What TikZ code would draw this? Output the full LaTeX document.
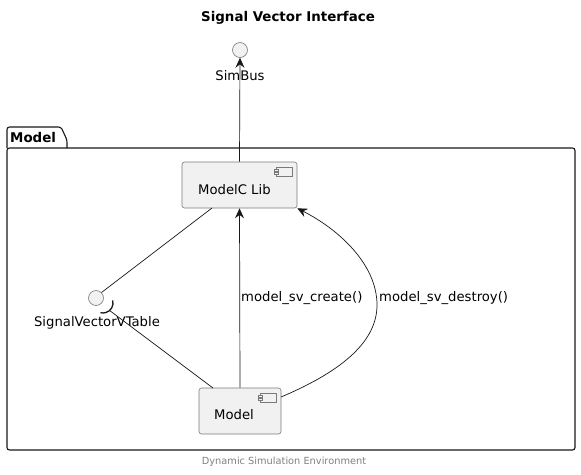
\documentclass[tikz,border=0pt]{standalone}
\usepackage{fontspec}
\setmainfont{DejaVu Sans}
\usetikzlibrary{arrows.meta,calc}
\definecolor{boxfill}{HTML}{F1F1F1}
\definecolor{boxline}{HTML}{7A7A7A}
\definecolor{conn}{HTML}{181818}
\tikzset{
  comp/.style={draw=boxline,fill=boxfill,rounded corners=2.5pt,line width=0.6pt,inner sep=0pt},
  iface/.style={circle,draw=boxline,fill=boxfill,line width=0.6pt,minimum size=15pt,inner sep=0pt},
  lbl/.style={font=\fontsize{13.2}{15}\selectfont,inner sep=0pt},
  conn/.style={draw=conn,line width=0.7pt},
  arr/.style={conn,-{Stealth[length=10pt,width=9pt,inset=3.5pt]}},
}
\newcommand{\compicon}[1]{%
  \draw[boxline,line width=0.5pt,fill=boxfill] ($(#1.north east)+(-21,6)$) rectangle ($(#1.north east)+(-5,15)$);
  \draw[boxline,line width=0.5pt,fill=boxfill] ($(#1.north east)+(-23,8)$) rectangle ($(#1.north east)+(-19,10)$);
  \draw[boxline,line width=0.5pt,fill=boxfill] ($(#1.north east)+(-23,11)$) rectangle ($(#1.north east)+(-19,13)$);
}
\begin{document}
\begin{tikzpicture}[x=1pt,y=-1pt]
\useasboundingbox (0,0) rectangle (581,474);
% title
\node[font=\bfseries\fontsize{13.4}{16}\selectfont] (title) at (288,18) {Signal Vector Interface};
% package
\draw[conn,line width=1.1pt,rounded corners=2.5pt] (7,148) -- (7,127) -- (61,127) -- (67,140) -- (67,148);
\draw[conn,line width=1.1pt,rounded corners=2.5pt] (7,148) rectangle (575,450);
\node[font=\bfseries\fontsize{13.4}{15}\selectfont,anchor=west,inner sep=0pt] (pkg) at (10,137.5) {Model};
% components
\node[comp,minimum width=115pt,minimum height=46pt] (mc) at (239.5,185) {};
\node[lbl,anchor=west] (mctxt) at (198,190) {ModelC Lib};
\compicon{mc}
\node[comp,minimum width=82pt,minimum height=46pt] (m) at (240,411) {};
\node[lbl,anchor=west] (mtxt) at (214,415) {Model};
\compicon{m}
% interfaces
\node[iface] (sb) at (240,50) {};
\node[lbl] (sbl) at (240,76) {SimBus};
\node[iface] (sv) at (96,298) {};
\node[lbl] (svl) at (97,323) {SignalVectorVTable};
% socket
\coordinate (sock) at (109,310);
\draw[conn,line width=1.3pt] (112.7,300.4) arc[start angle=-15,end angle=105,radius=10];
% connectors
\draw[arr] (mc.north) -- (sb.south);
\draw[conn] (212,208) -- (sv.north east);
\draw[conn] (sock) -- (213,388);
\draw[arr] (m.north) -- (mc.south);
\node[lbl,anchor=west] (l1) at (241,298) {model\_sv\_create()};
\coordinate (ds) at (281,397);
\coordinate (mid) at (377,305);
\draw[arr] (ds) .. controls (345,370) and (377,340) .. (mid) .. controls (377,265) and (340,230) .. (mc.south east);
\node[lbl,anchor=west] (l2) at (379,298) {model\_sv\_destroy()};
% footer
\node[font=\fontsize{9.8}{11}\selectfont,text=gray] (foot) at (284,462) {Dynamic Simulation Environment};
\end{tikzpicture}
\end{document}
